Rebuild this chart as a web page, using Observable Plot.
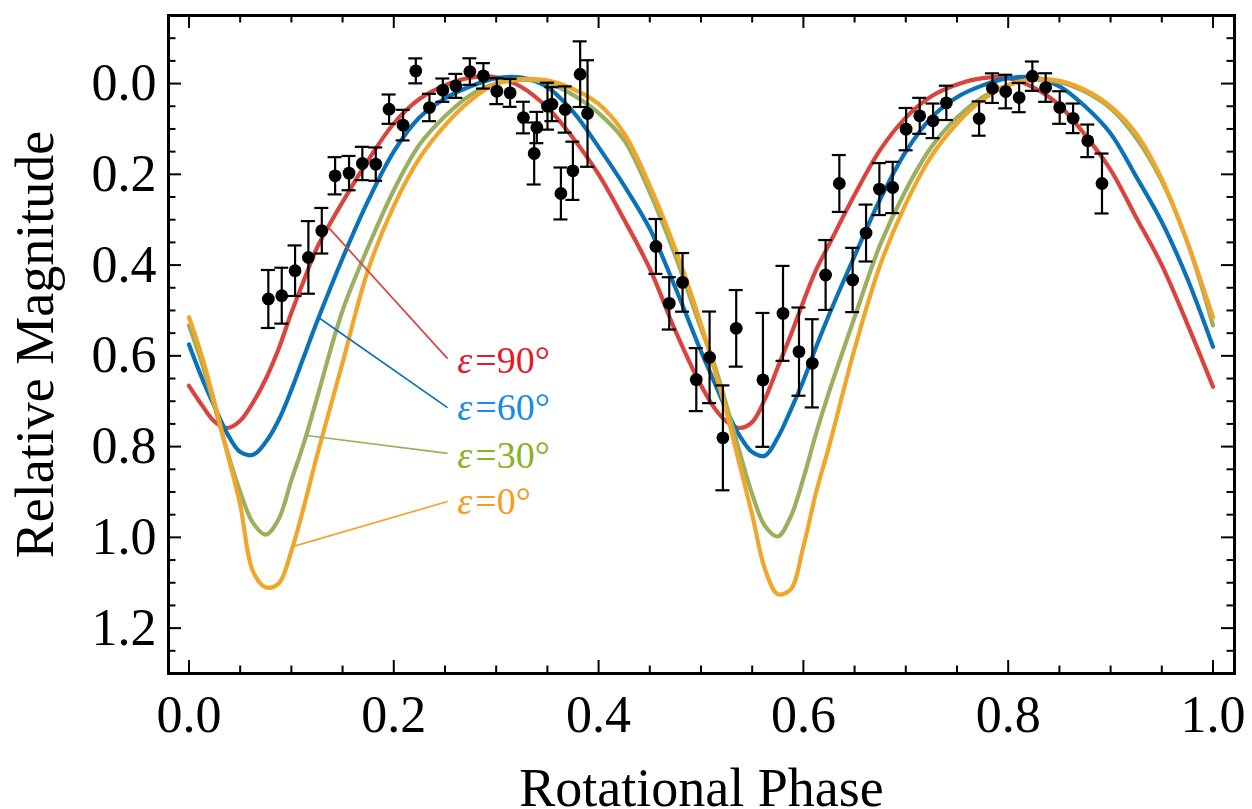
<!DOCTYPE html>
<html><head><meta charset="utf-8">
<script src="https://cdn.jsdelivr.net/npm/d3@7"></script>
<script src="https://cdn.jsdelivr.net/npm/@observablehq/plot@0.6"></script>
<style>
html,body{margin:0;padding:0;background:#fff;}
#chart{width:1252px;height:809px;overflow:hidden;}
</style></head><body><div id="chart"></div>
<script>
// Observed photometry
const obsPhase = [0.0775,0.0906,0.1036,0.1166,0.1297,0.1427,0.1563,0.1693,0.1824,0.1954,0.2091,0.2215,0.2348,0.2479,0.2606,0.2743,0.2875,0.3006,0.3136,0.3266,0.3397,0.3371,0.3501,0.3544,0.3674,0.3632,0.3749,0.382,0.3892,0.456,0.469,0.482,0.4954,0.5084,0.5214,0.5344,0.5605,0.5801,0.5957,0.6087,0.6217,0.6351,0.6481,0.6612,0.6742,0.6872,0.7003,0.7136,0.7266,0.7396,0.7716,0.7846,0.7976,0.8107,0.8236,0.8366,0.8503,0.8634,0.8777,0.8916];
const obsMag = [0.4747,0.4674,0.4124,0.3831,0.3243,0.2032,0.1973,0.1761,0.1775,0.0564,0.0916,-0.028,0.0528,0.0145,0.0051,-0.0264,-0.017,0.0167,0.0205,0.0749,0.0969,0.1541,0.0498,0.0454,0.0572,0.2422,0.1922,-0.0207,0.066,0.3589,0.4844,0.4381,0.6524,0.6033,0.7807,0.5394,0.653,0.5064,0.5907,0.6165,0.4218,0.2202,0.4328,0.3294,0.2325,0.229,0.1004,0.0711,0.0821,0.0425,0.0771,0.0101,0.0176,0.0308,-0.0163,0.0088,0.0528,0.0766,0.1262,0.2202];
const obsErr = [0.0639,0.0616,0.0557,0.080,0.0502,0.041,0.0378,0.0367,0.0367,0.0323,0.0337,0.0275,0.0301,0.0257,0.0264,0.0293,0.028,0.0286,0.0308,0.0348,0.0345,0.0683,0.0517,0.0374,0.051,0.0572,0.0642,0.0723,0.1174,0.0605,0.0576,0.0646,0.0694,0.1009,0.1156,0.0844,0.1475,0.1046,0.0972,0.0972,0.077,0.0627,0.0708,0.0627,0.0572,0.0565,0.0466,0.0396,0.0381,0.0378,0.0378,0.0326,0.037,0.0323,0.0323,0.0315,0.0359,0.0326,0.0359,0.066];

// Model lightcurves
const modelPhase = [0,0.0125,0.025,0.0375,0.05,0.0625,0.075,0.0875,0.1,0.1125,0.125,0.15,0.175,0.2,0.225,0.25,0.275,0.3,0.325,0.35,0.375,0.4,0.425,0.45,0.475,0.5,0.5125,0.525,0.5375,0.55,0.5625,0.575,0.5875,0.6,0.6125,0.625,0.65,0.675,0.7,0.725,0.75,0.775,0.8,0.825,0.85,0.875,0.9,0.925,0.95,0.975,1.0];
const magEps90 = [0.666,0.708,0.745,0.759,0.743,0.703,0.651,0.585,0.505,0.432,0.362,0.261,0.169,0.088,0.034,0.004,-0.013,-0.014,0.008,0.053,0.12,0.2,0.30,0.408,0.545,0.665,0.713,0.745,0.759,0.746,0.695,0.625,0.555,0.48,0.41,0.355,0.245,0.146,0.075,0.028,0.002,-0.012,-0.012,0.009,0.048,0.113,0.19,0.295,0.40,0.53,0.668];
const magEps60 = [0.575,0.648,0.712,0.772,0.812,0.818,0.79,0.742,0.675,0.60,0.525,0.385,0.258,0.15,0.075,0.033,0.006,-0.012,-0.013,0.008,0.062,0.14,0.225,0.32,0.45,0.59,0.655,0.72,0.775,0.812,0.82,0.78,0.72,0.655,0.58,0.51,0.38,0.255,0.15,0.075,0.03,0.004,-0.012,-0.013,0.006,0.05,0.11,0.205,0.305,0.43,0.58];
const magEps30 = [0.533,0.615,0.712,0.812,0.90,0.968,0.994,0.96,0.874,0.79,0.693,0.50,0.36,0.235,0.135,0.072,0.025,0.0,-0.008,-0.002,0.025,0.065,0.125,0.24,0.38,0.54,0.615,0.71,0.81,0.905,0.975,0.998,0.955,0.87,0.77,0.68,0.515,0.355,0.235,0.14,0.075,0.03,0.003,-0.008,-0.003,0.018,0.055,0.12,0.215,0.35,0.533];
const magEps0 = [0.515,0.60,0.703,0.815,0.928,1.075,1.11,1.102,1.03,0.93,0.82,0.615,0.41,0.27,0.165,0.092,0.037,0.0,-0.01,-0.007,0.012,0.045,0.11,0.225,0.365,0.53,0.625,0.725,0.838,0.95,1.07,1.125,1.115,1.02,0.90,0.80,0.585,0.40,0.265,0.16,0.088,0.036,0.004,-0.01,-0.006,0.014,0.05,0.11,0.21,0.35,0.515];

const seriesLabels = ["=90°", "=60°", "=30°", "=0°"];
const curveColors = ["#d9453c", "#0a72b8", "#9caf5e", "#f0a62a"];
const labelColors = ["#e41a2c", "#1a8ce6", "#86b41e", "#f59c1a"];

// Leader lines & labels (data coordinates)
const leaderFromPhase = [0.1362, 0.1265, 0.1148, 0.102];
const leaderFromMag = [0.317, 0.5155, 0.7755, 1.020];
const leaderToPhase = [0.2525, 0.2525, 0.2525, 0.2525];
const leaderToMag = [0.606, 0.714, 0.815, 0.921];
const labelPhase = [0.262, 0.262, 0.262, 0.262];
const labelMag = [0.610, 0.714, 0.820, 0.921];

// Ticks
const xMajorTicks = [0, 0.2, 0.4, 0.6, 0.8, 1.0];
const xMinorTicks = [0.05,0.1,0.15,0.25,0.3,0.35,0.45,0.5,0.55,0.65,0.7,0.75,0.85,0.9,0.95];
const yMajorTicks = [0, 0.2, 0.4, 0.6, 0.8, 1.0, 1.2];
const yMinorTicks = [-0.1,-0.05,0.05,0.1,0.15,0.25,0.3,0.35,0.45,0.5,0.55,0.65,0.7,0.75,0.85,0.9,0.95,1.05,1.1,1.15,1.25];

const W = 1252, H = 809, mL = 168, mR = 18, mT = 15, mB = 136;
const innerW = W - mL - mR, innerH = H - mT - mB;
const majorLen = 13, minorLen = 7.5;
const FONT = "'Liberation Serif', 'Times New Roman', serif";

const obs = obsPhase.map((p, i) => ({p, m: obsMag[i], e: obsErr[i]}));
const models = [magEps90, magEps60, magEps30, magEps0].map(arr => modelPhase.map((p, i) => ({p, m: arr[i]})));
const leaders = leaderFromPhase.map((p, i) => ({x1: p, y1: leaderFromMag[i], x2: leaderToPhase[i], y2: leaderToMag[i], c: curveColors[i]}));
const labels = labelPhase.map((p, i) => ({p, m: labelMag[i], t: seriesLabels[i], c: labelColors[i]}));

const fmt = d3.format(".1f");
const tickStyle = {stroke: "#000", strokeWidth: 2};

const marks = [
  // model curves
  ...models.map((data, i) => Plot.line(data, {x: "p", y: "m", stroke: curveColors[i], strokeWidth: 4.2, curve: "catmull-rom"})),
  // leader lines
  Plot.link(leaders, {x1: "x1", y1: "y1", x2: "x2", y2: "y2", stroke: "c", strokeWidth: 1.7}),
  // labels
  Plot.text(labels, {x: "p", y: "m", text: () => "ε", fill: "c", fontSize: 38, fontStyle: "italic", textAnchor: "start", lineAnchor: "middle", fontFamily: FONT}),
  Plot.text(labels, {x: "p", y: "m", text: "t", fill: "c", fontSize: 38, textAnchor: "start", lineAnchor: "middle", dx: 18, fontFamily: FONT}),
  // error bars
  Plot.ruleX(obs, {x: "p", y1: d => d.m - d.e, y2: d => d.m + d.e, stroke: "#000", strokeWidth: 2.2}),
  Plot.ruleY(obs, {y: d => d.m - d.e, x1: "p", x2: "p", insetLeft: -7, insetRight: -7, stroke: "#000", strokeWidth: 2.2}),
  Plot.ruleY(obs, {y: d => d.m + d.e, x1: "p", x2: "p", insetLeft: -7, insetRight: -7, stroke: "#000", strokeWidth: 2.2}),
  Plot.dot(obs, {x: "p", y: "m", r: 6.4, fill: "#000"}),
  // inward ticks, all four sides
  Plot.tickX(xMajorTicks, {x: d => d, insetTop: innerH - majorLen, ...tickStyle}),
  Plot.tickX(xMinorTicks, {x: d => d, insetTop: innerH - minorLen, ...tickStyle}),
  Plot.tickX(xMajorTicks, {x: d => d, insetBottom: innerH - majorLen, ...tickStyle}),
  Plot.tickX(xMinorTicks, {x: d => d, insetBottom: innerH - minorLen, ...tickStyle}),
  Plot.tickY(yMajorTicks, {y: d => d, insetRight: innerW - majorLen, ...tickStyle}),
  Plot.tickY(yMinorTicks, {y: d => d, insetRight: innerW - minorLen, ...tickStyle}),
  Plot.tickY(yMajorTicks, {y: d => d, insetLeft: innerW - majorLen, ...tickStyle}),
  Plot.tickY(yMinorTicks, {y: d => d, insetLeft: innerW - minorLen, ...tickStyle}),
  Plot.frame({stroke: "#000", strokeWidth: 3}),
  // tick labels
  Plot.axisX(xMajorTicks, {anchor: "bottom", tickSize: 0, tickPadding: 22, tickFormat: fmt, fontSize: 52, label: null, fontFamily: FONT}),
  Plot.axisY(yMajorTicks, {anchor: "left", tickSize: 0, tickPadding: 12, tickFormat: fmt, fontSize: 52, label: null, fontFamily: FONT}),
  // axis titles
  Plot.text(["Rotational Phase"], {frameAnchor: "bottom", dy: 115, fontSize: 54, textAnchor: "middle", lineAnchor: "middle", fontFamily: FONT, fill: "#000"}),
  Plot.text(["Relative Magnitude"], {frameAnchor: "left", dx: -133, rotate: -90, fontSize: 54, textAnchor: "middle", lineAnchor: "middle", fontFamily: FONT, fill: "#000"})
];

const chart = Plot.plot({
  width: W, height: H,
  marginLeft: mL, marginRight: mR, marginTop: mT, marginBottom: mB,
  style: {background: "#fff", fontFamily: FONT, color: "#000", overflow: "visible"},
  x: {domain: [-0.02, 1.021], axis: null},
  y: {domain: [-0.15, 1.3], reverse: true, axis: null},
  marks
});
document.getElementById("chart").appendChild(chart);
</script>
</body></html>
